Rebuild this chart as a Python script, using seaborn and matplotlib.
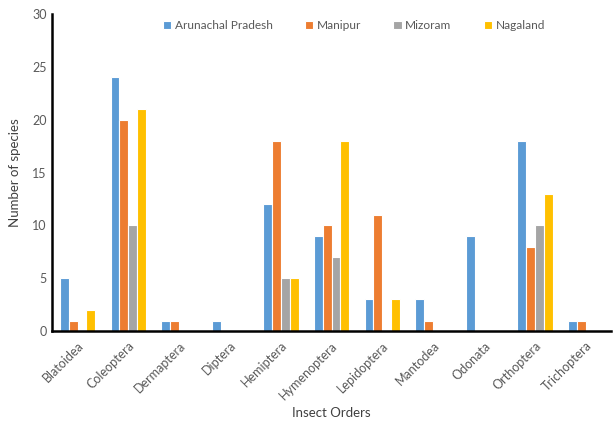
import matplotlib
matplotlib.use("Agg")
import matplotlib.pyplot as plt
import seaborn as sns
import pandas as pd

orders = ["Blatoidea", "Coleoptera", "Dermaptera", "Diptera", "Hemiptera",
          "Hymenoptera", "Lepidoptera", "Mantodea", "Odonata", "Orthoptera",
          "Trichoptera"]
states = ["Arunachal Pradesh", "Manipur", "Mizoram", "Nagaland"]
arunachal = [5, 24, 1, 1, 12, 9, 3, 3, 9, 18, 1]
manipur = [1, 20, 1, 0, 18, 10, 11, 1, 0, 8, 1]
mizoram = [0, 10, 0, 0, 5, 7, 0, 0, 0, 10, 0]
nagaland = [2, 21, 0, 0, 5, 18, 3, 0, 0, 13, 0]
colors = ["#5B9BD5", "#ED7D31", "#A5A5A5", "#FFC000"]

rows = []
for state, vals in zip(states, [arunachal, manipur, mizoram, nagaland]):
    for order, v in zip(orders, vals):
        rows.append({"Order": order, "State": state, "Species": v})
df = pd.DataFrame(rows)

sns.set_theme(style="white")
plt.rcParams["font.family"] = ["Lato", "DejaVu Sans"]

fig = plt.figure(figsize=(6.14, 4.24), dpi=100)
ax = fig.add_axes([0.085, 0.219, 0.91, 0.748])

sns.barplot(data=df, x="Order", y="Species", hue="State", order=orders,
            hue_order=states, palette=colors, saturation=1, width=0.7,
            edgecolor="white", linewidth=0.8, ax=ax, errorbar=None)

ax.set_ylim(0, 30)
ax.set_yticks(range(0, 31, 5))
ax.set_xlim(-0.5, len(orders) - 0.5)
ax.set_xlabel("Insect Orders", fontsize=9.5, color="#404040", labelpad=4)
ax.set_ylabel("Number of species", fontsize=9.5, color="#404040", labelpad=8)
ax.tick_params(axis="both", length=0, labelsize=9, colors="#595959", pad=4)
ax.tick_params(axis="x", pad=6)
plt.setp(ax.get_xticklabels(), rotation=45, ha="right", rotation_mode="anchor")

for s in ["top", "right"]:
    ax.spines[s].set_visible(False)
for s in ["left", "bottom"]:
    ax.spines[s].set_color("black")
    ax.spines[s].set_linewidth(1.8)

leg = ax.legend(loc="upper center", bbox_to_anchor=(0.54, 1.015), ncol=4,
                frameon=False, fontsize=8.6, handlelength=0.7, handleheight=0.7,
                handletextpad=0.3, columnspacing=2.7)
for t in leg.get_texts():
    t.set_color("#595959")

fig.savefig("out.png", dpi=100)
